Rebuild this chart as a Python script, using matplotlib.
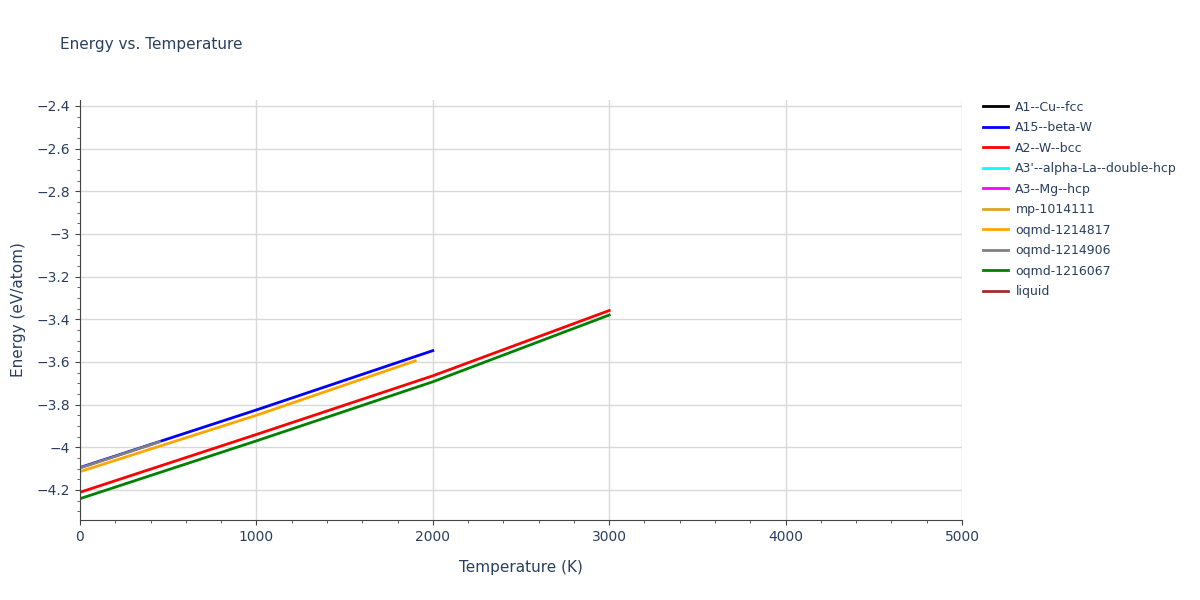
import matplotlib
matplotlib.use("Agg")
import matplotlib.pyplot as plt
from matplotlib.ticker import MultipleLocator, FuncFormatter

names = ["A1--Cu--fcc", "A15--beta-W", "A2--W--bcc", "A3'--alpha-La--double-hcp",
         "A3--Mg--hcp", "mp-1014111", "oqmd-1214817", "oqmd-1214906", "oqmd-1216067", "liquid"]
colors = ["black", "blue", "red", "cyan", "magenta", "goldenrod", "orange", "gray", "green", "brown"]

T_a1, E_a1 = [], []
T_a15 = [0, 1000, 2000]
E_a15 = [-4.095, -3.825, -3.547]
T_a2 = [0, 1000, 2000, 3000]
E_a2 = [-4.211, -3.94, -3.665, -3.359]
T_a3p, E_a3p = [], []
T_a3, E_a3 = [], []
T_mp, E_mp = [], []
T_o817 = [0, 1000, 1900]
E_o817 = [-4.114, -3.85, -3.595]
T_o906 = [0, 450]
E_o906 = [-4.097, -3.975]
T_o067 = [0, 1000, 2000, 3000]
E_o067 = [-4.241, -3.97, -3.693, -3.38]
T_liq, E_liq = [], []

Ts = [T_a1, T_a15, T_a2, T_a3p, T_a3, T_mp, T_o817, T_o906, T_o067, T_liq]
Es = [E_a1, E_a15, E_a2, E_a3p, E_a3, E_mp, E_o817, E_o906, E_o067, E_liq]

fig = plt.figure(figsize=(12, 6), dpi=100)
ax = fig.add_axes([80/1200, 80/600, 882/1200, 420/600])
for n, c, t, e in zip(names, colors, Ts, Es):
    ax.plot(t, e, color=c, lw=2, label=n)

ax.set_xlim(0, 5000)
ax.set_ylim(-4.341, -2.372)
ax.xaxis.set_major_locator(MultipleLocator(1000))
ax.xaxis.set_minor_locator(MultipleLocator(200))
ax.yaxis.set_major_locator(MultipleLocator(0.2))
ax.yaxis.set_minor_locator(MultipleLocator(0.05))
ax.yaxis.set_major_formatter(FuncFormatter(lambda v, p: f"{v:g}".replace("-", "\u2212")))
ax.grid(True, which="major", color="#d9d9d9", lw=1)
ax.set_axisbelow(True)
for s in ["top", "right"]:
    ax.spines[s].set_visible(False)
for s in ["left", "bottom"]:
    ax.spines[s].set_color("#444444")
ax.tick_params(colors="#2a3f5f", labelsize=10)
ax.tick_params(which="both", color="#444444")
ax.set_xlabel("Temperature (K)", color="#2a3f5f", fontsize=11, labelpad=12)
ax.set_ylabel("Energy (eV/atom)", color="#2a3f5f", fontsize=11, labelpad=8)
fig.text(60/1200, 1 - 45/600, "Energy vs. Temperature", color="#2a3f5f", fontsize=11, va="center")
leg = ax.legend(loc="upper left", bbox_to_anchor=(1.018, 1.01), frameon=False,
                fontsize=9, handlelength=2.0, handletextpad=0.6, labelspacing=0.6,
                borderaxespad=0)
for t in leg.get_texts():
    t.set_color("#2a3f5f")
fig.savefig("out.png", dpi=100)
